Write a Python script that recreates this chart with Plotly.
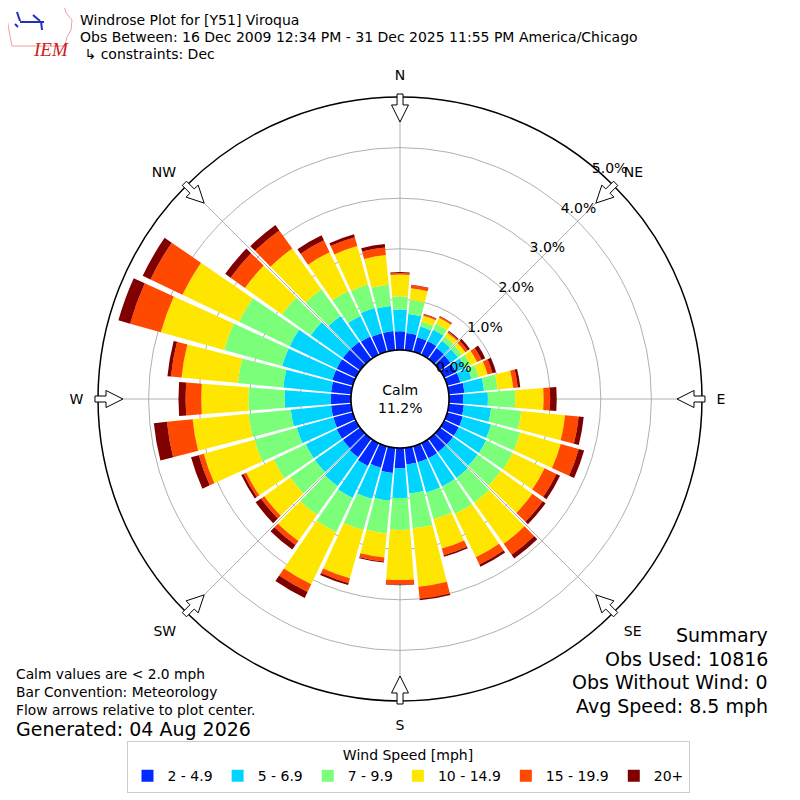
import plotly.graph_objects as go
import math

# wind directions (degrees, meteorological convention)
directions = [0, 10, 20, 30, 40, 50, 60, 70, 80, 90, 100, 110, 120, 130, 140, 150, 160, 170,
              180, 190, 200, 210, 220, 230, 240, 250, 260, 270, 280, 290, 300, 310, 320, 330, 340, 350]

speed_2_5 = [0.37, 0.34, 0.30, 0.30, 0.27, 0.26, 0.26, 0.27, 0.31, 0.28, 0.30, 0.32,
             0.32, 0.32, 0.32, 0.33, 0.33, 0.33, 0.40, 0.50, 0.44, 0.50, 0.45, 0.42,
             0.42, 0.40, 0.40, 0.40, 0.40, 0.42, 0.42, 0.42, 0.42, 0.40, 0.38, 0.38]
speed_5_7 = [0.43, 0.38, 0.22, 0.25, 0.18, 0.18, 0.20, 0.23, 0.39, 0.49, 0.54, 0.58,
             0.60, 0.60, 0.63, 0.62, 0.62, 0.58, 0.59, 0.55, 0.64, 0.70, 0.70, 0.68,
             0.68, 0.75, 0.80, 0.91, 0.95, 1.03, 1.03, 0.78, 0.63, 0.45, 0.52, 0.50]
speed_7_10 = [0.26, 0.28, 0.10, 0.13, 0.10, 0.10, 0.12, 0.15, 0.27, 0.54, 0.60, 0.60,
              0.58, 0.56, 0.60, 0.60, 0.55, 0.69, 0.63, 0.65, 0.64, 0.75, 0.70, 0.60,
              0.70, 0.87, 0.84, 0.72, 0.90, 1.19, 1.11, 0.70, 0.65, 0.55, 0.48, 0.42]
speed_10_15 = [0.43, 0.23, 0.12, 0.13, 0.09, 0.08, 0.14, 0.18, 0.31, 0.56, 0.87, 0.83,
               0.70, 0.77, 1.00, 0.95, 0.60, 1.16, 0.99, 0.48, 0.99, 1.14, 0.63, 0.63,
               0.60, 1.04, 1.11, 0.93, 1.12, 1.30, 1.24, 0.90, 0.99, 0.85, 0.79, 0.59]
speed_15_20 = [0.03, 0.06, 0.03, 0.03, 0.03, 0.06, 0.10, 0.10, 0.09, 0.13, 0.27, 0.37,
               0.26, 0.25, 0.27, 0.16, 0.14, 0.24, 0.09, 0.08, 0.10, 0.17, 0.10, 0.08,
               0.06, 0.10, 0.51, 0.31, 0.21, 0.63, 0.70, 0.35, 0.44, 0.26, 0.18, 0.15]
speed_20_up = [0.02, 0.01, 0.01, 0.01, 0.02, 0.05, 0.08, 0.07, 0.05, 0.13, 0.10, 0.11,
               0.08, 0.07, 0.09, 0.05, 0.03, 0.03, 0.01, 0.02, 0.04, 0.13, 0.11, 0.13,
               0.05, 0.16, 0.26, 0.14, 0.07, 0.24, 0.17, 0.13, 0.13, 0.11, 0.06, 0.07]

bin_names = ['2 - 4.9', '5 - 6.9', '7 - 9.9', '10 - 14.9', '15 - 19.9', '20+']
bin_colors = ['#002aff', '#00d4ff', '#7bff7b', '#ffe600', '#ff4800', '#800000']

radial_ticks = [0, 1, 2, 3, 4, 5]
radial_labels = ['0.0%', '1.0%', '2.0%', '3.0%', '4.0%', '5.0%']
compass_angles = [0, 45, 90, 135, 180, 225, 270, 315]
compass_labels = ['N', 'NE', 'E', 'SE', 'S', 'SW', 'W', 'NW']

calm_pct = 11.2
summary_lines = ['Summary', 'Obs Used: 10816', 'Obs Without Wind: 0', 'Avg Speed: 8.5 mph']
note_lines = ['Calm values are < 2.0 mph', 'Bar Convention: Meteorology',
              'Flow arrows relative to plot center.']

FONT = 'DejaVu Sans'
W = H = 800
OFF = 8  # page body margin
CX, CY, R_OUT = 400, 399, 302  # wanted position on the page
LABEL_ANGLE = 52


def px(x, y):
    # page pixel -> paper coordinates
    return (x - OFF) / W, 1 - (y - OFF) / H


fig = go.Figure()

series = [speed_2_5, speed_5_7, speed_7_10, speed_10_15, speed_15_20, speed_20_up]
for name, color, vals in zip(bin_names, bin_colors, series):
    fig.add_trace(go.Barpolar(r=vals, theta=directions, name=name, width=8.8,
                              marker=dict(color=color, line=dict(width=0))))

# outline of the calm circle
fig.add_trace(go.Scatterpolar(r=[0] * 73, theta=list(range(0, 361, 5)), mode='lines',
                              line=dict(color='black', width=1.2),
                              showlegend=False, hoverinfo='skip'))

x0, y1 = px(CX - R_OUT, CY - R_OUT)
x1, y0 = px(CX + R_OUT, CY + R_OUT)
fig.update_layout(
    width=W, height=H,
    margin=dict(l=0, r=0, t=0, b=0),
    paper_bgcolor='white',
    font=dict(family=FONT, color='black', size=13),
    barmode='stack',
    polar=dict(
        domain=dict(x=[x0, x1], y=[y0, y1]),
        hole=49 / R_OUT,
        bgcolor='white',
        radialaxis=dict(range=[0, 5], tickvals=radial_ticks, ticktext=radial_labels,
                        angle=LABEL_ANGLE, side='clockwise', tickangle=LABEL_ANGLE,
                        showline=False, ticks='', gridcolor='#b0b0b0', gridwidth=1,
                        tickfont=dict(size=14), layer='above traces'),
        angularaxis=dict(rotation=90, direction='clockwise',
                         tickvals=compass_angles, ticktext=compass_labels,
                         ticks='outside', ticklen=11, tickcolor='rgba(0,0,0,0)',
                         showline=True, linecolor='black', linewidth=1.5,
                         gridcolor='#b0b0b0', gridwidth=1,
                         tickfont=dict(size=14), layer='above traces'),
    ),
    legend=dict(orientation='h', x=0.5, xanchor='center', y=px(0, 741)[1], yanchor='top',
                title=dict(text='Wind Speed [mph]', side='top center', font=dict(size=14)),
                bordercolor='#cccccc', borderwidth=1, font=dict(size=14),
                traceorder='normal', itemwidth=30),
)

# hollow flow arrows on the rim
shapes = []
for a in compass_angles:
    t = math.radians(a)
    ux, uy = math.sin(t), -math.cos(t)
    vx, vy = math.cos(t), math.sin(t)
    pts = []
    for rr, off in [(277, 0), (294, 8.5), (294, 3), (305, 3), (305, -3), (294, -3), (294, -8.5)]:
        pts.append(px(CX + rr * ux + off * vx, CY + rr * uy + off * vy))
    path = 'M ' + ' L '.join(f'{x:.4f},{y:.4f}' for x, y in pts) + ' Z'
    shapes.append(dict(type='path', xref='paper', yref='paper', path=path,
                       fillcolor='white', line=dict(color='black', width=1)))

# IEM logo (rough)
iowa = [(5, 5), (64, 5), (66, 13), (72, 20), (71, 30), (67, 37), (65, 46), (12, 46),
        (10, 36), (8, 24), (6, 14)]
ipts = [px(x, y) for x, y in iowa]
shapes.append(dict(type='path', xref='paper', yref='paper',
                   path='M ' + ' L '.join(f'{x:.4f},{y:.4f}' for x, y in ipts) + ' Z',
                   line=dict(color='#e9a0a0', width=1)))
for (lx0, ly0, lx1, ly1) in [(20, 22, 44, 22), (17, 12, 20, 21), (33, 15, 40, 21),
                             (41, 21, 42, 30), (15, 24, 18, 27)]:
    a0 = px(lx0, ly0)
    a1 = px(lx1, ly1)
    shapes.append(dict(type='line', xref='paper', yref='paper', x0=a0[0], y0=a0[1],
                       x1=a1[0], y1=a1[1], line=dict(color='#2030c0', width=2)))
fig.update_layout(shapes=shapes)

ann = []
ann.append(dict(text='<i>IEM</i>', x=px(31, 37)[0], y=px(31, 37)[1], showarrow=False,
                font=dict(family='Liberation Serif', size=19, color='#d02020')))
titles = ['Windrose Plot for [Y51] Viroqua',
          'Obs Between: 16 Dec 2009 12:34 PM - 31 Dec 2025 11:55 PM America/Chicago',
          ' ↳ constraints: Dec']
for i, t in enumerate(titles):
    ann.append(dict(text=t, x=px(78, 0)[0], y=px(0, 20 + 17 * i)[1], xanchor='left',
                    yanchor='middle', showarrow=False, font=dict(size=14)))
for i, t in enumerate(summary_lines):
    ann.append(dict(text=t, x=px(770, 0)[0], y=px(0, 635 + 23.7 * i)[1], xanchor='right',
                    yanchor='middle', showarrow=False, font=dict(size=19)))
for i, t in enumerate(note_lines):
    ann.append(dict(text=t, x=px(14, 0)[0], y=px(0, 674 + 18 * i)[1], xanchor='left',
                    yanchor='middle', showarrow=False, font=dict(size=13.8)))
ann.append(dict(text='Generated: 04 Aug 2026', x=px(14, 0)[0], y=px(0, 729)[1],
                xanchor='left', yanchor='middle', showarrow=False, font=dict(size=19)))
ann.append(dict(text=f'Calm<br>{calm_pct:.1f}%', x=px(CX, CY)[0], y=px(CX, CY)[1],
                showarrow=False, font=dict(size=14)))
fig.update_layout(annotations=ann)

fig.write_html('out.html')
